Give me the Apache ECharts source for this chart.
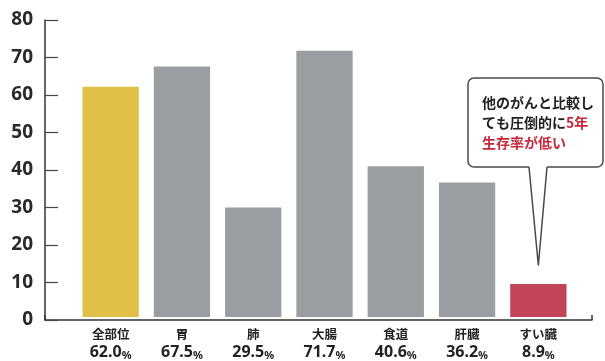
<!DOCTYPE html>
<html>
<head>
<meta charset="utf-8">
<script src="https://cdn.jsdelivr.net/npm/echarts@6/dist/echarts.min.js"></script>
<style>
  html, body { margin: 0; padding: 0; background: #fff; }
  #chart { width: 605px; height: 361px; }
</style>
</head>
<body>
<div id="chart"></div>
<script>
const categories = ['全部位', '胃', '肺', '大腸', '食道', '肝臓', 'すい臓']
const survivalRates = [62.0, 67.5, 29.5, 71.7, 40.6, 36.2, 8.9]
const barColors = ['#e0c046', '#9a9ea3', '#9a9ea3', '#9a9ea3', '#9a9ea3', '#9a9ea3', '#c24458']
const yTicks = { min: 0, max: 80, interval: 10 }
const calloutLines = [
  [{ t: '他のがんと比較し', s: 'a' }],
  [{ t: 'ても圧倒的に', s: 'a' }, { t: '5年', s: 'r' }],
  [{ t: '生存率が低い', s: 'r' }]
]

const chart = echarts.init(document.getElementById('chart'))
const jp = '"Noto Sans CJK JP", "Noto Sans", sans-serif'

const option = {
  backgroundColor: '#fff',
  animation: false,
  grid: [
    { left: 45, right: 13, top: 20, bottom: 41 },
    { left: 75, right: 31, top: 20, bottom: 41 }
  ],
  xAxis: [
    {
      type: 'value', gridIndex: 0, min: 0, max: 1, interval: 1,
      axisLine: { show: true, lineStyle: { color: '#333', width: 1.5 } },
      axisTick: { show: true, inside: true, length: 5, lineStyle: { color: '#333', width: 1.5 } },
      axisLabel: { show: false },
      splitLine: { show: false }
    },
    {
      type: 'category', gridIndex: 1, data: categories,
      axisLine: { show: false },
      axisTick: { show: false },
      axisLabel: {
        interval: 0,
        margin: 9,
        formatter: (v, i) => '{n|' + v + '}\n{v|' + survivalRates[i].toFixed(1) + '}{p|%}',
        rich: {
          n: { fontFamily: jp, fontSize: 12.5, fontWeight: 'bold', color: '#222', lineHeight: 17 },
          v: { fontFamily: '"Noto Sans", sans-serif', fontSize: 16, fontWeight: 'bold', color: '#222', lineHeight: 18 },
          p: { fontFamily: '"Noto Sans", sans-serif', fontSize: 11, fontWeight: 'bold', color: '#222', lineHeight: 18, verticalAlign: 'bottom' }
        }
      }
    }
  ],
  yAxis: [
    {
      type: 'value', gridIndex: 0, ...yTicks,
      axisLine: { show: true, lineStyle: { color: '#333', width: 1.5 } },
      axisTick: { show: true, inside: true, length: 13, lineStyle: { color: '#444', width: 1.2 } },
      axisLabel: { margin: 12, fontSize: 19, fontWeight: 'bold', color: '#2a2a2a', fontFamily: '"Noto Sans", sans-serif' },
      splitLine: { show: false }
    },
    {
      type: 'value', gridIndex: 1, ...yTicks,
      axisLine: { show: false }, axisTick: { show: false },
      axisLabel: { show: false }, splitLine: { show: false }
    }
  ],
  series: [
    {
      type: 'bar',
      xAxisIndex: 1,
      yAxisIndex: 1,
      barWidth: '79%',
      data: survivalRates.map((v, i) => ({ value: v, itemStyle: { color: barColors[i] } }))
    }
  ]
}
chart.setOption(option)

// callout bubble pointing at the last bar
const tip = chart.convertToPixel({ xAxisIndex: 1, yAxisIndex: 1 }, [categories.length - 1, 13.9])
const bx = { left: 468, top: 78, right: 603, bottom: 167, baseL: 529, baseR: 547 }
const text = calloutLines.map(line => line.map(p => '{' + p.s + '|' + p.t + '}').join('')).join('\n')

chart.setOption({
  graphic: [
    {
      type: 'rect',
      shape: { x: bx.left, y: bx.top, width: bx.right - bx.left, height: bx.bottom - bx.top, r: 6 },
      style: { fill: '#fff', stroke: '#4a4a4a', lineWidth: 1.5 },
      z: 10
    },
    {
      type: 'polygon',
      shape: { points: [[bx.baseL, bx.bottom - 2], [bx.baseR, bx.bottom - 2], [tip[0], tip[1]]] },
      style: { fill: '#fff' },
      z: 11
    },
    {
      type: 'polyline',
      shape: { points: [[bx.baseL, bx.bottom], [tip[0], tip[1]], [bx.baseR, bx.bottom]] },
      style: { stroke: '#4a4a4a', lineWidth: 1.5, fill: null },
      z: 12
    },
    {
      type: 'text',
      x: 482,
      y: 93,
      z: 13,
      style: {
        text: text,
        rich: {
          a: { fontFamily: jp, fontSize: 14, fontWeight: 'bold', fill: '#222', lineHeight: 20 },
          r: { fontFamily: jp, fontSize: 14, fontWeight: 'bold', fill: '#c8283c', lineHeight: 20 }
        }
      }
    }
  ]
})
</script>
</body>
</html>
